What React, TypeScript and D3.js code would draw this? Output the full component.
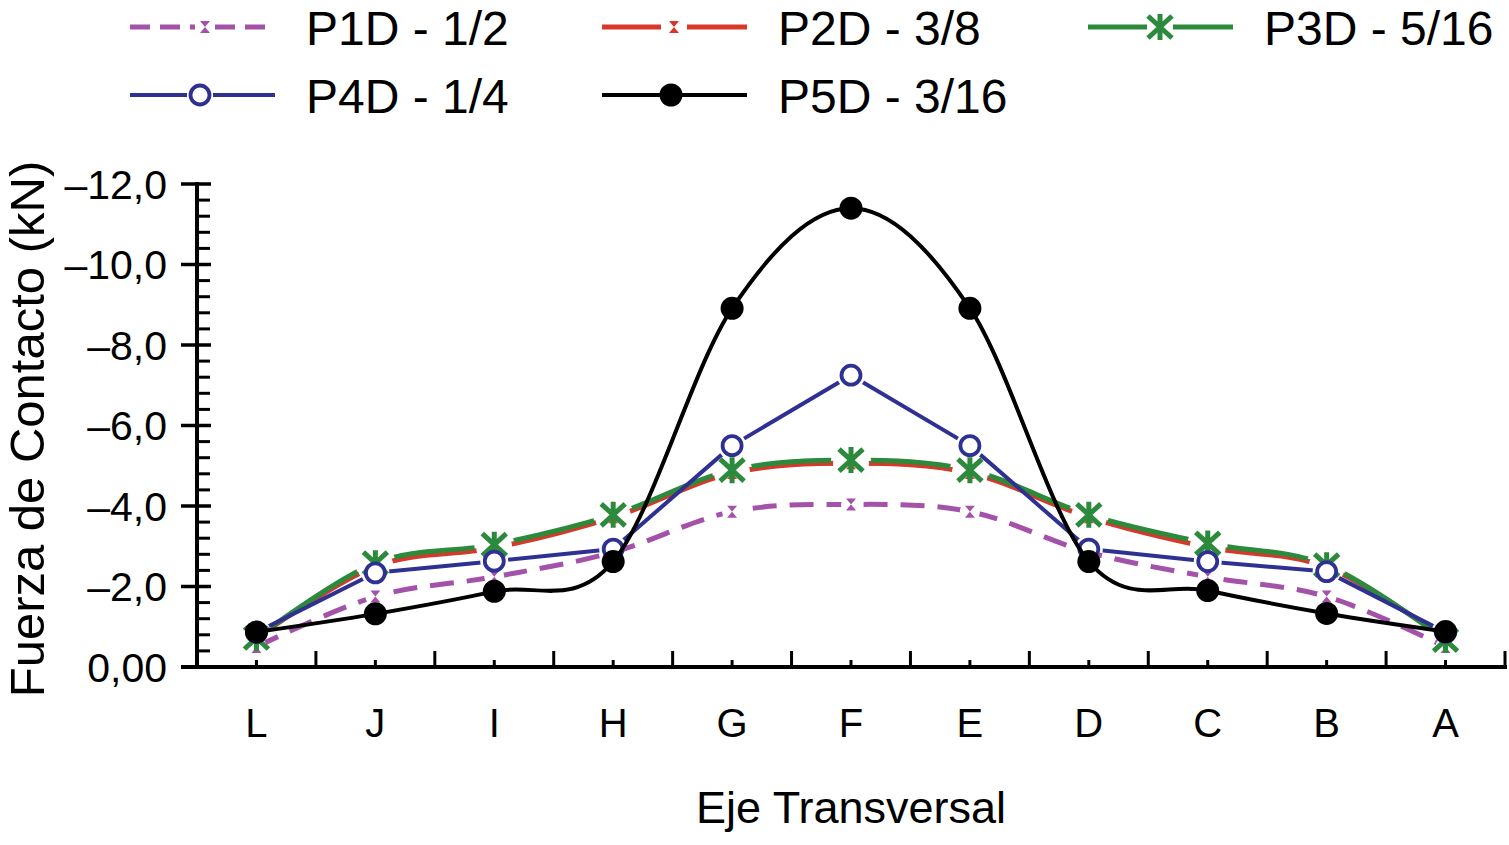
import React from "react";
import * as d3 from "d3";

// categories along the transversal axis
const categories = ["L", "J", "I", "H", "G", "F", "E", "D", "C", "B", "A"];

// contact force (kN), negative values as in the plot
const p1d = [-0.5, -1.75, -2.24, -2.85, -3.86, -4.04, -3.86, -2.85, -2.24, -1.75, -0.5];
const p2d = [-0.72, -2.5, -2.96, -3.72, -4.82, -5.06, -4.82, -3.72, -2.98, -2.48, -0.7];
const p3d = [-0.72, -2.58, -3.04, -3.78, -4.89, -5.14, -4.89, -3.78, -3.07, -2.53, -0.67];
const p4d = [-0.86, -2.34, -2.63, -2.93, -5.5, -7.25, -5.5, -2.93, -2.62, -2.37, -0.86];
const p5d = [-0.87, -1.32, -1.88, -2.62, -8.91, -11.4, -8.91, -2.62, -1.9, -1.33, -0.88];

const seriesNames = ["P1D - 1/2", "P2D - 3/8", "P3D - 5/16", "P4D - 1/4", "P5D - 3/16"];
const yTicks = [0, -2, -4, -6, -8, -10, -12];

const FONT = "'Liberation Sans', Arial, Helvetica, sans-serif";

type Kind = "bow" | "star" | "open" | "dot";
interface Style {
  color: string;
  width: number;
  dash?: string;
  kind: Kind;
  gap: number;
  smooth: boolean;
}

const styles: Style[] = [
  { color: "#a452a9", width: 5, dash: "24,13", kind: "bow", gap: 10, smooth: true },
  { color: "#d6382a", width: 5, kind: "bow", gap: 18, smooth: true },
  { color: "#2c8a3c", width: 5, kind: "star", gap: 20, smooth: true },
  { color: "#2e3191", width: 4, kind: "open", gap: 14, smooth: false },
  { color: "#000000", width: 4, kind: "dot", gap: 0, smooth: true },
];

const values = [p1d, p2d, p3d, p4d, p5d];

function Marker({ kind, color, x, y }: { kind: Kind; color: string; x: number; y: number }) {
  if (kind === "bow")
    return <path d="M-5,-6L5,-6L-5,6L5,6Z" transform={`translate(${x},${y})`} fill={color} />;
  if (kind === "star")
    return (
      <path
        d="M0,-13V13M-12,-11L12,11M-12,11L12,-11"
        transform={`translate(${x},${y})`}
        stroke={color}
        strokeWidth={5}
        fill="none"
      />
    );
  if (kind === "open")
    return <circle cx={x} cy={y} r={9.5} fill="#fff" stroke={color} strokeWidth={3.8} />;
  return <circle cx={x} cy={y} r={11.5} fill={color} />;
}

export default function App() {
  const width = 1509;
  const height = 845;
  const x0 = 197;
  const x1 = 1505;
  const yTop = 184;
  const yBot = 667;

  const x = d3.scalePoint<string>().domain(categories).range([x0, x1]).padding(0.5);
  const y = d3.scaleLinear().domain([0, -12]).range([yBot, yTop]);
  const step = x.step();

  const minor = d3.range(0, 31).map((i) => -i * 0.4).filter((v) => Math.abs(v / 2 - Math.round(v / 2)) > 1e-6);
  const fmt = (v: number) => (v === 0 ? "0,00" : "\u2013" + Math.abs(v).toFixed(1).replace(".", ","));

  const legendPos = [
    { lx: 130, mx: 205, y: 27 },
    { lx: 602, mx: 674, y: 27 },
    { lx: 1088, mx: 1160, y: 27 },
    { lx: 130, mx: 200, y: 95 },
    { lx: 602, mx: 671, y: 95 },
  ];

  return (
    <svg width={width} height={height} style={{ position: "absolute", left: 0, top: 0, background: "#fff" }} fontFamily={FONT}>
      <defs>
        {values.map((vals, si) => (
          <mask id={`gap${si}`} key={si} maskUnits="userSpaceOnUse" x={0} y={0} width={width} height={height}>
            <rect x={0} y={0} width={width} height={height} fill="#fff" />
            {styles[si].gap > 0 &&
              vals.map((v, i) => (
                <circle key={i} cx={x(categories[i])} cy={y(v)} r={styles[si].gap} fill="#000" />
              ))}
          </mask>
        ))}
      </defs>

      {/* legend */}
      {seriesNames.map((name, si) => {
        const p = legendPos[si];
        const s = styles[si];
        const g = s.gap > 0 ? Math.min(s.gap, 13) : 0;
        return (
          <g key={name}>
            <line x1={p.lx} x2={p.mx - g} y1={p.y} y2={p.y} stroke={s.color} strokeWidth={s.width} strokeDasharray={s.dash ? "20,10" : undefined} />
            <line x1={p.mx + g} x2={p.lx + 145} y1={p.y} y2={p.y} stroke={s.color} strokeWidth={s.width} strokeDasharray={s.dash ? "20,10" : undefined} />
            <Marker kind={s.kind} color={s.color} x={p.mx} y={p.y} />
            <text x={p.lx + 176} y={p.y + 18} fontSize={48} fill="#000">
              {name}
            </text>
          </g>
        );
      })}

      {/* series */}
      {values.map((vals, si) => {
        const s = styles[si];
        const line = d3
          .line<number>()
          .x((_, i) => x(categories[i]) as number)
          .y((v) => y(v))
          .curve(s.smooth ? d3.curveCardinal.tension(0) : d3.curveLinear);
        return (
          <g key={si}>
            <path
              d={line(vals) || ""}
              fill="none"
              stroke={s.color}
              strokeWidth={s.width}
              strokeDasharray={s.dash}
              strokeLinejoin="round"
              mask={`url(#gap${si})`}
            />
            {vals.map((v, i) => (
              <Marker key={i} kind={s.kind} color={s.color} x={x(categories[i]) as number} y={y(v)} />
            ))}
          </g>
        );
      })}

      {/* y axis */}
      <line x1={x0} x2={x0} y1={yTop - 2} y2={yBot + 2} stroke="#000" strokeWidth={4} />
      {yTicks.map((v) => (
        <g key={v}>
          <line x1={181} x2={211} y1={y(v)} y2={y(v)} stroke="#000" strokeWidth={3.5} />
          <text x={167} y={y(v)} dy="0.36em" textAnchor="end" fontSize={41}>
            {fmt(v)}
          </text>
        </g>
      ))}
      {minor.map((v) => (
        <line key={v} x1={x0} x2={210} y1={y(v)} y2={y(v)} stroke="#000" strokeWidth={3} />
      ))}
      <text transform="translate(44,429) rotate(-90)" textAnchor="middle" fontSize={49}>
        Fuerza de Contacto (kN)
      </text>

      {/* x axis */}
      <line x1={181} x2={x1 + 2} y1={yBot} y2={yBot} stroke="#000" strokeWidth={4} />
      {categories.map((c) => (
        <g key={c}>
          <line x1={x(c)} x2={x(c)} y1={yBot} y2={yBot - 7} stroke="#000" strokeWidth={3} />
          <line x1={(x(c) as number) + step / 2} x2={(x(c) as number) + step / 2} y1={yBot} y2={yBot - 16} stroke="#000" strokeWidth={3} />
          <text x={x(c)} y={737} textAnchor="middle" fontSize={40}>
            {c}
          </text>
        </g>
      ))}
      <text x={(x0 + x1) / 2} y={823} textAnchor="middle" fontSize={45}>
        Eje Transversal
      </text>
    </svg>
  );
}
